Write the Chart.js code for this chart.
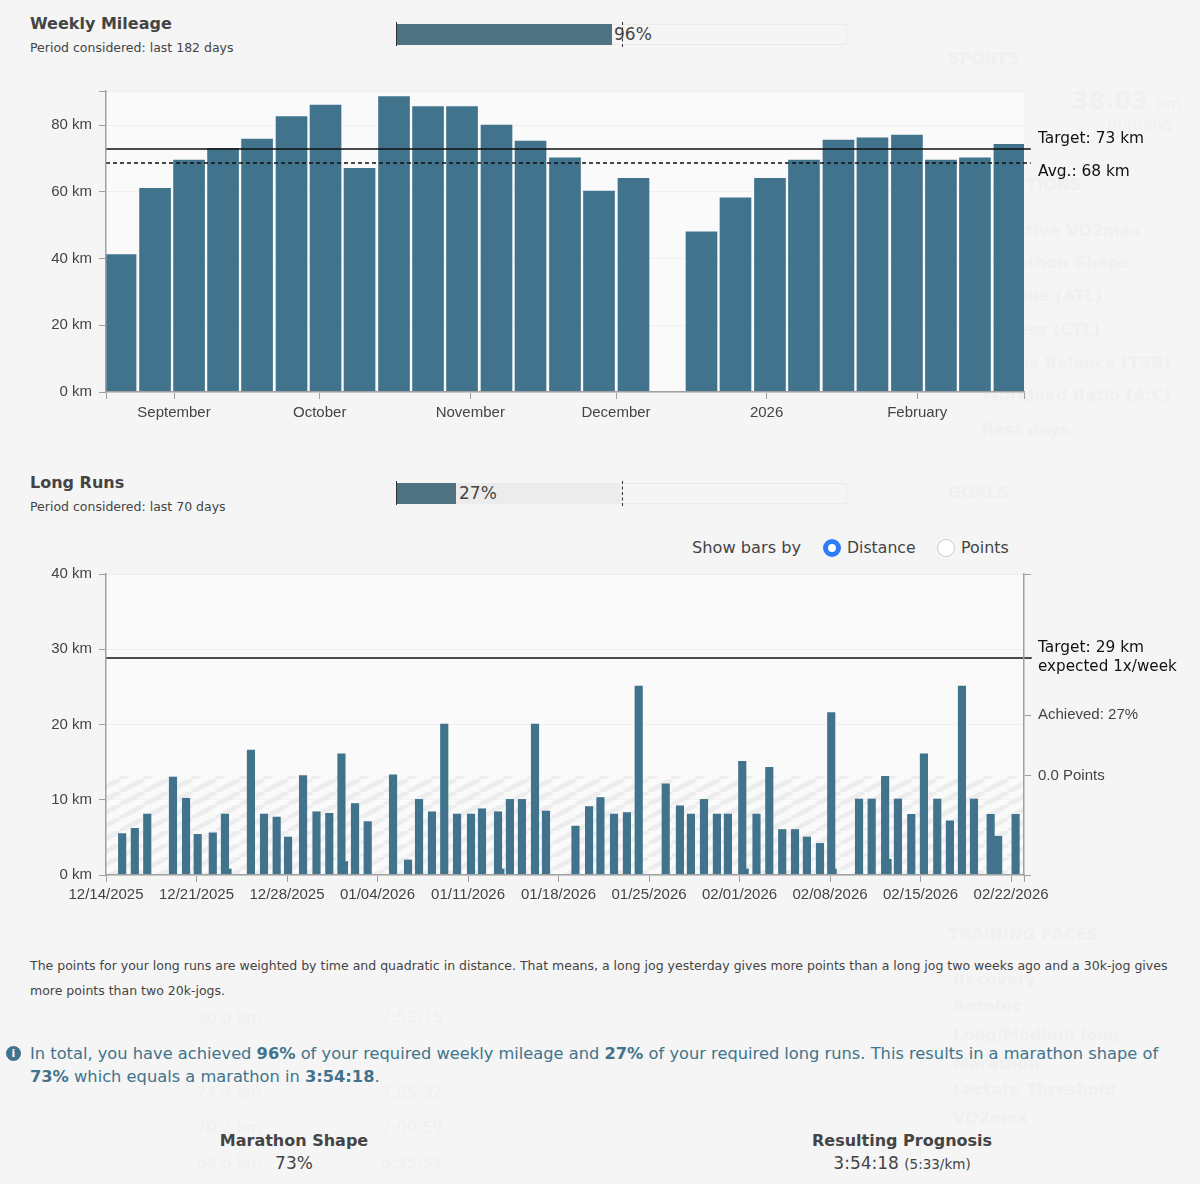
<!DOCTYPE html>
<html>
<head>
<meta charset="utf-8">
<script src="https://cdn.jsdelivr.net/npm/chart.js@4/dist/chart.umd.js"></script>
<style>
  html, body { margin: 0; padding: 0; background: #f5f5f5; }
  body { width: 1200px; height: 1184px; position: relative; overflow: hidden; font-family: "DejaVu Sans", sans-serif; color: #333; }
  canvas { position: absolute; left: 0; }
  .t { position: absolute; white-space: nowrap; line-height: 1; }
  .c { transform: translateX(-50%); }
  .g { position: absolute; white-space: nowrap; line-height: 1; color: #f0f0f0; font-size: 16px; }
  .gb { font-weight: bold; }
  .card { position: absolute; border: 1px solid #f2f2f2; box-sizing: border-box; }
  .track { position: absolute; left: 396px; width: 451px; height: 21px; border: 1px solid #ebebeb; box-sizing: border-box; }
  .fill { position: absolute; left: 396px; height: 21px; background: #4e7282; }
  .ref { position: absolute; left: 396px; width: 0; height: 24px; border-left: 1.5px solid #333; }
  .dash { position: absolute; left: 622px; width: 0; height: 25px; border-left: 1px dashed #333; }
  .radio { position: absolute; width: 18px; height: 18px; border-radius: 50%; box-sizing: border-box; }
  b { color: inherit; }
</style>
</head>
<body>

<!-- page behind the dialog, barely visible -->
<div class="card" style="left:938px;top:37px;width:270px;height:420px"></div>
<div class="card" style="left:938px;top:478px;width:270px;height:400px"></div>
<div class="card" style="left:938px;top:918px;width:270px;height:240px"></div>
<div class="card" style="left:-10px;top:36px;width:931px;height:430px"></div>
<div class="card" style="left:-10px;top:478px;width:931px;height:700px"></div>
<div class="g gb" style="left:948px;top:51px">SPORTS</div>
<div class="g gb" style="left:1072px;top:89px;font-size:24px">38.03 <span style="font-weight:normal;font-size:16px">km</span></div>
<div class="g" style="left:1107px;top:117px">Running</div>
<div class="g gb" style="left:960px;top:177px">PREDICTIONS</div>
<div class="g gb" style="left:982px;top:223px">Effective VO2max</div>
<div class="g gb" style="left:982px;top:255px">Marathon Shape</div>
<div class="g gb" style="left:982px;top:288px">Fatigue (ATL)</div>
<div class="g gb" style="left:982px;top:322px">Fitness (CTL)</div>
<div class="g gb" style="left:982px;top:355px">Stress Balance (TSB)</div>
<div class="g gb" style="left:982px;top:388px">Workload Ratio (A:C)</div>
<div class="g gb" style="left:982px;top:422px">Rest days</div>
<div class="g gb" style="left:948px;top:485px">GOALS</div>
<div class="g gb" style="left:948px;top:927px">TRAINING PACES</div>
<div class="g gb" style="left:953px;top:972px">Recovery</div>
<div class="g gb" style="left:953px;top:998px">Aerobic</div>
<div class="g gb" style="left:953px;top:1027px">Long/Medium long</div>
<div class="g gb" style="left:953px;top:1056px">Marathon</div>
<div class="g gb" style="left:953px;top:1082px">Lactate Threshold</div>
<div class="g gb" style="left:953px;top:1110px">VO2max</div>
<div class="g" style="left:196px;top:1010px">30.0 km</div>
<div class="g" style="left:381px;top:1010px">2:53:15</div>
<div class="g" style="left:196px;top:1085px">74.4 km</div>
<div class="g" style="left:381px;top:1085px">7:05:32</div>
<div class="g" style="left:196px;top:1120px">70.2 km</div>
<div class="g" style="left:381px;top:1120px">7:09:59</div>
<div class="g" style="left:196px;top:1155px">69.6 km</div>
<div class="g" style="left:381px;top:1155px">6:35:31</div>

<div class="t" style="left:30px;top:16px;font-size:16px;font-weight:bold;color:#444">Weekly Mileage</div>
<div class="t" style="left:30px;top:42px;font-size:12.5px;color:#444">Period considered: last 182 days</div>
<div class="track" style="top:24px"></div>
<div class="fill" style="top:24px;width:216px"></div>
<div class="ref" style="top:22px"></div>
<div class="dash" style="top:22px"></div>
<div class="t" style="left:614px;top:26px;font-size:17px;color:#444">96%</div>

<canvas id="millas" width="1200" height="360" style="top:75px"></canvas>
<div class="t" style="left:1038px;top:131px;font-size:15.4px;color:#111">Target: 73 km</div>
<div class="t" style="left:1038px;top:164px;font-size:15.4px;color:#111">Avg.: 68 km</div>

<div class="t" style="left:30px;top:475px;font-size:16px;font-weight:bold;color:#444">Long Runs</div>
<div class="t" style="left:30px;top:501px;font-size:12.5px;color:#444">Period considered: last 70 days</div>
<div class="track" style="top:483px"></div>
<div class="fill" style="top:483px;width:226px;background:#ececec"></div>
<div class="fill" style="top:483px;width:60px"></div>
<div class="ref" style="top:481px"></div>
<div class="dash" style="top:481px"></div>
<div class="t" style="left:459px;top:485px;font-size:17px;color:#444">27%</div>

<div class="t" style="left:692px;top:540px;font-size:16.2px;color:#444">Show bars by</div>
<div class="radio" style="left:823px;top:539px;background:#fff;border:5px solid #2f7cf6"></div>
<div class="t" style="left:847px;top:540px;font-size:15.7px;color:#444">Distance</div>
<div class="radio" style="left:937px;top:539px;background:#fff;border:1px solid #ccc"></div>
<div class="t" style="left:961px;top:540px;font-size:15.9px;color:#444">Points</div>

<canvas id="largas" width="1200" height="350" style="top:558px"></canvas>
<div class="t" style="left:1038px;top:640px;font-size:15.4px;color:#111">Target: 29 km</div>
<div class="t" style="left:1038px;top:659px;font-size:15.2px;color:#111">expected 1x/week</div>

<div class="t" style="left:30px;top:960px;font-size:12.5px;color:#444">The points for your long runs are weighted by time and quadratic in distance. That means, a long jog yesterday gives more points than a long jog two weeks ago and a 30k-jog gives</div>
<div class="t" style="left:30px;top:985px;font-size:12.5px;color:#444">more points than two 20k-jogs.</div>

<div style="position:absolute;left:6px;top:1046px;width:15px;height:15px;border-radius:50%;background:#41748c;color:#fff;font-size:11px;font-weight:bold;line-height:15px;text-align:center">i</div>
<div class="t" style="left:30px;top:1046px;font-size:16.25px;color:#41748c">In total, you have achieved <b>96%</b> of your required weekly mileage and <b>27%</b> of your required long runs. This results in a marathon shape of</div>
<div class="t" style="left:30px;top:1069px;font-size:16.25px;color:#41748c"><b>73%</b> which equals a marathon in <b>3:54:18</b>.</div>

<div class="t c" style="left:294px;top:1133px;font-size:16px;font-weight:bold;color:#444">Marathon Shape</div>
<div class="t c" style="left:294px;top:1155px;font-size:17px;color:#444">73%</div>
<div class="t c" style="left:902px;top:1133px;font-size:16px;font-weight:bold;color:#444">Resulting Prognosis</div>
<div class="t c" style="left:902px;top:1155px;font-size:17px;color:#444">3:54:18 <span style="font-size:13.5px">(5:33/km)</span></div>

<script>
// weekly mileage, x in days since 08/18/2025
const semanasDia = [3.0, 10.1, 17.1, 24.1, 31.1, 38.2, 45.2, 52.2, 59.3, 66.3, 73.3, 80.4, 87.4, 94.5, 101.5, 108.6, 115.6, 122.6, 129.6, 136.7, 143.7, 150.8, 157.8, 164.9, 171.9, 178.9, 186.0];
const semanasKm = [41.2, 61, 69.5, 73, 75.8, 82.5, 86, 67, 88.5, 85.5, 85.5, 80, 75.2, 70.2, 60.2, 64, null, 48, 58.2, 64, 69.5, 75.5, 76.2, 77, 69.5, 70.2, 74.2];
const mesesDia = [0, 14, 44, 75, 105, 136, 167, 189];
const mesesTexto = ["", "September", "October", "November", "December", "2026", "February", ""];
const semanasTicksY = [0, 20, 40, 60, 80, 90.2];
const objetivoSemana = 72.8;
const mediaSemana = 68.6;

// long runs, x in days since 12/14/2025
const largasDia = [1.25, 2.23, 3.19, 5.18, 6.19, 7.09, 8.26, 9.2, 9.4, 11.21, 12.22, 13.2, 14.08, 15.24, 16.28, 17.27, 18.21, 18.4, 19.26, 20.24, 22.2, 23.36, 24.21, 25.21, 26.16, 27.15, 28.23, 29.08, 30.32, 30.5, 31.24, 32.17, 33.18, 34.03, 36.31, 37.36, 38.24, 39.29, 40.29, 41.2, 43.29, 44.39, 45.24, 46.25, 47.25, 48.1, 49.21, 49.4, 50.31, 51.3, 52.3, 53.29, 54.21, 55.22, 56.09, 56.2, 58.24, 59.22, 60.26, 60.45, 61.25, 62.28, 63.26, 64.29, 65.27, 66.2, 67.13, 68.42, 69.0, 70.35];
const largasKm = [5.5, 6.2, 8.1, 13, 10.2, 5.4, 5.6, 8.1, 0.8, 16.6, 8.1, 7.7, 5.05, 13.2, 8.4, 8.2, 16.1, 1.8, 9.5, 7.1, 13.3, 2, 10.05, 8.4, 20.05, 8.1, 8.1, 8.8, 8.4, 0.8, 10.05, 10.05, 20.05, 8.5, 6.5, 9.1, 10.3, 8.1, 8.3, 25.1, 12.1, 9.2, 8.1, 10.05, 8.1, 8.1, 15.1, 0.8, 8.1, 14.3, 6.05, 6.05, 5.05, 4.2, 21.6, 0.8, 10.1, 10.1, 13.1, 2.1, 10.1, 8.06, 16.1, 10.1, 7.2, 25.1, 10.1, 8.06, 5.15, 8.06];
const largasTicksX = [0, 7, 14, 21, 28, 35, 42, 49, 56, 63, 70, 71];
const largasFechas = ["12/14/2025", "12/21/2025", "12/28/2025", "01/04/2026", "01/11/2026", "01/18/2026", "01/25/2026", "02/01/2026", "02/08/2026", "02/15/2026", "02/22/2026", ""];
const largasTicksY = [0, 10, 20, 30, 40];
const puntosTicks = [0, 13.16, 21.26, 40];
const puntosTexto = ["", "0.0 Points", "Achieved: 27%", ""];
const objetivoLarga = 28.84;
const limitePuntos = 13.16;

const AZUL = "#41748c";
const EJE = "#a0a0a0";
const fuente = { family: "'Liberation Sans', Arial, sans-serif", size: 15 };

const fondoPlot = {
  id: "fondoPlot",
  beforeDraw(chart) {
    const a = chart.chartArea;
    chart.ctx.fillStyle = "#fafafa";
    chart.ctx.fillRect(a.left, a.top, a.width, a.height);
  }
};

function rayas() {
  const c = document.createElement("canvas");
  c.width = 24;
  c.height = 13;
  const g = c.getContext("2d");
  g.strokeStyle = "#ededed";
  g.lineWidth = 5;
  [-24, 0, 24].forEach(d => {
    g.beginPath();
    g.moveTo(d, 13);
    g.lineTo(d + 24, 0);
    g.stroke();
  });
  return g.createPattern(c, "repeat");
}

function ejeY(ticks, ancho, texto, pos, fuenteTick) {
  return {
    position: pos,
    min: 0,
    max: ticks[ticks.length - 1],
    afterBuildTicks: s => { s.ticks = ticks.map(v => ({ value: v })); },
    afterFit: s => { s.width = ancho; },
    border: { color: EJE, width: 1.5, z: 1 },
    grid: { color: pos === "left" ? "#efefef" : "transparent", tickColor: EJE, tickLength: 7, drawOnChartArea: pos === "left" },
    ticks: { font: fuenteTick, color: "#444", padding: 7, callback: texto }
  };
}

function ejeX(max, ticks, textos, alto, sep) {
  return {
    type: "linear",
    min: 0,
    max: max,
    offset: false,
    afterBuildTicks: s => { s.ticks = ticks.map(v => ({ value: v })); },
    afterFit: s => { s.height = alto; },
    border: { color: EJE, width: 1.5, z: 1 },
    grid: { offset: false, drawOnChartArea: false, tickColor: EJE, tickLength: 7 },
    ticks: {
      font: fuente, color: "#444", padding: sep, maxRotation: 0, autoSkip: false,
      callback: v => textos[ticks.indexOf(v)]
    }
  };
}

function linea(y, xMax, ancho, dash) {
  return {
    type: "line",
    data: [{ x: 0, y: y }, { x: xMax, y: y }],
    borderColor: "#111",
    borderWidth: ancho,
    borderDash: dash,
    pointRadius: 0,
    clip: false,
    order: 0
  };
}

new Chart(document.getElementById("millas"), {
  type: "bar",
  plugins: [fondoPlot],
  data: {
    datasets: [
      linea(objetivoSemana, 190.4, 1.6, []),
      linea(mediaSemana, 190.4, 1.5, [4, 3]),
      {
        data: semanasKm.map((v, i) => ({ x: semanasDia[i], y: v })),
        backgroundColor: AZUL,
        barThickness: 31,
        order: 1
      }
    ]
  },
  options: {
    responsive: false,
    animation: false,
    layout: { padding: { right: 176 } },
    plugins: { legend: { display: false }, tooltip: { enabled: false } },
    scales: {
      x: ejeX(189, mesesDia, mesesTexto, 43, 5),
      y: ejeY(semanasTicksY, 106, v => (v === 90.2 ? "" : v + " km"), "left", fuente)
    }
  }
});

new Chart(document.getElementById("largas"), {
  type: "bar",
  plugins: [fondoPlot],
  data: {
    datasets: [
      {
        type: "line",
        data: [{ x: 0, y: limitePuntos }, { x: 71, y: limitePuntos }],
        borderWidth: 0,
        pointRadius: 0,
        fill: "origin",
        backgroundColor: rayas(),
        order: 3
      },
      linea(objetivoLarga, 71.6, 1.6, []),
      {
        data: largasKm.map((v, i) => ({ x: largasDia[i], y: v })),
        backgroundColor: AZUL,
        barThickness: 7.5,
        order: 1
      }
    ]
  },
  options: {
    responsive: false,
    animation: false,
    plugins: { legend: { display: false }, tooltip: { enabled: false } },
    scales: {
      x: ejeX(71, largasTicksX, largasFechas, 33, 4),
      y: ejeY(largasTicksY, 106, v => v + " km", "left", fuente),
      y2: ejeY(puntosTicks, 176, v => puntosTexto[puntosTicks.indexOf(v)], "right", { family: fuente.family, size: 15 })
    }
  }
});
</script>
</body>
</html>
